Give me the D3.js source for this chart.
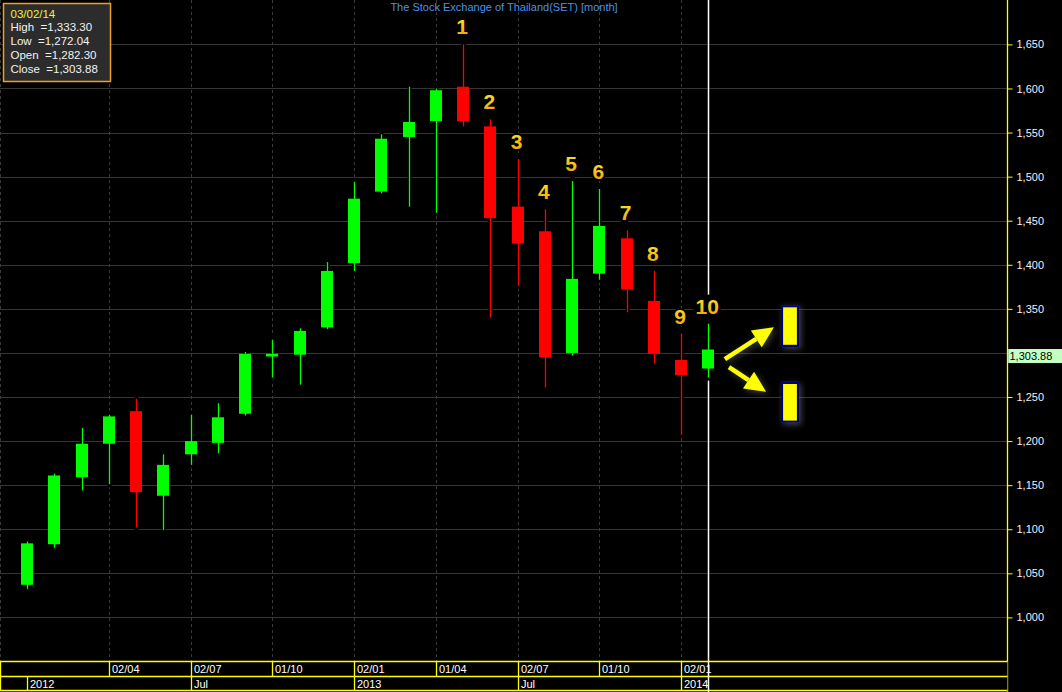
<!DOCTYPE html>
<html><head><meta charset="utf-8">
<script src="https://cdn.jsdelivr.net/npm/d3@7"></script>
<style>
html,body{margin:0;padding:0;background:#000;overflow:hidden;}
svg{display:block;font-family:Arial,"Liberation Sans",sans-serif;}
</style></head><body>
<svg id="c" width="1062" height="692"></svg>
<script>
// ---------------- data ----------------
const months = ["2012-01","2012-02","2012-03","2012-04","2012-05","2012-06","2012-07","2012-08","2012-09","2012-10","2012-11","2012-12",
                "2013-01","2013-02","2013-03","2013-04","2013-05","2013-06","2013-07","2013-08","2013-09","2013-10","2013-11","2013-12",
                "2014-01","2014-02"];
const openV  = [1037,1083,1159,1197,1234,1138,1185,1198,1231,1296,1298,1329,1402,1483,1545,1563,1602,1557,1466,1438,1300,1390,1430,1359,1292,1282.30];
const highV  = [1086,1163,1215,1230,1248,1185,1230,1243,1301,1315,1328,1403,1494,1548,1602,1600,1650,1565,1520,1463,1495,1486,1439,1393,1322,1333.30];
const lowV   = [1032,1079,1144,1151,1102,1099,1173,1186,1229,1272,1264,1327,1393,1481,1466,1459,1557,1340,1376,1261,1297,1383,1346,1288,1207,1272.04];
const closeV = [1084,1161,1197,1228,1142,1173,1200,1227,1299,1299,1325,1393,1475,1543,1562,1598,1563,1453,1424,1295,1384,1444,1372,1299,1275,1303.88];

const yTicks = [1000,1050,1100,1150,1200,1250,1300,1350,1400,1450,1500,1550,1600,1650];
const dateTickIndex  = [3,6,9,12,15,18,21,24];
const dateTickLabels = ["02/04","02/07","01/10","02/01","01/04","02/07","01/10","02/01"];
const periodTickIndex  = [0,6,12,18,24];
const periodTickLabels = ["2012","Jul","2013","Jul","2014"];

const title = "The Stock Exchange of Thailand(SET) [month]";
const infoDate = "03/02/14";
const cursorIndex = 25;

// annotations: numbered months (1..10), and two projection arrows/boxes
const labelIndex = [16,17,18,19,20,21,22,23,24,25];
const labelText  = ["1","2","3","4","5","6","7","8","9","10"];
const arrowFromIdx = [25.61, 25.76];
const arrowFromVal = [1293, 1284];
const arrowToIdx   = [27.41, 27.12];
const arrowToVal   = [1329, 1256];
const boxIdx  = [28, 28];
const boxHigh = [1353, 1266];
const boxLow  = [1308, 1222];

// ---------------- layout ----------------
const W = 1062, H = 692;
const plotRight = 1007.5, plotBottom = 661.5;
const svg = d3.select("#c");

const x = d3.scaleLinear().domain([0, 25]).range([27, 708.25]);
const y = d3.scaleLinear().domain([1000, 1650]).range([617.4, 44.4]);
const fmt = d3.format(",");
const fmt2 = d3.format(",.2f");
const lastClose = closeV[closeV.length-1];

const defs = svg.append("defs");
const grad = defs.append("linearGradient").attr("id","gold").attr("x1",0).attr("y1",0).attr("x2",0).attr("y2",1);
grad.append("stop").attr("offset","0%").attr("stop-color","#ffe830");
grad.append("stop").attr("offset","100%").attr("stop-color","#f0a000");
const glow = defs.append("filter").attr("id","glow").attr("x","-50%").attr("y","-50%").attr("width","200%").attr("height","200%");
glow.append("feDropShadow").attr("dx",2).attr("dy",2).attr("stdDeviation",3).attr("flood-color","#777").attr("flood-opacity",0.55);

svg.append("rect").attr("width",W).attr("height",H).attr("fill","#000");

// horizontal grid
svg.append("g").selectAll("line").data(yTicks).join("line")
  .attr("x1",0).attr("x2",plotRight)
  .attr("y1",d=>Math.round(y(d))+0.5).attr("y2",d=>Math.round(y(d))+0.5)
  .attr("stroke","#353535").attr("stroke-width",1);

// vertical dashed grid
svg.append("g").selectAll("line").data([-1].concat(dateTickIndex)).join("line")
  .attr("x1",d=>d<0?0.5:Math.round(x(d))+0.5).attr("x2",d=>d<0?0.5:Math.round(x(d))+0.5)
  .attr("y1",0).attr("y2",plotBottom)
  .attr("stroke","#3a3a3a").attr("stroke-width",1).attr("stroke-dasharray","3,3");

// title
svg.append("text").attr("x",504).attr("y",11).attr("text-anchor","middle")
  .attr("font-size",11).attr("fill","#4d92e6").text(title);

// cursor line
svg.append("line").attr("x1",Math.round(x(cursorIndex))+0.5).attr("x2",Math.round(x(cursorIndex))+0.5)
  .attr("y1",0).attr("y2",H).attr("stroke","#fff").attr("stroke-width",1.5);

// candles
const candles = months.map((m,i)=>({i, o:openV[i], h:highV[i], l:lowV[i], c:closeV[i]}));
const cg = svg.append("g");
cg.selectAll("line.halo").data(candles).join("line").attr("class","halo")
  .attr("x1",d=>Math.round(x(d.i))+0.5).attr("x2",d=>Math.round(x(d.i))+0.5)
  .attr("y1",d=>y(d.h)-4).attr("y2",d=>y(d.l)+3)
  .attr("stroke","#000").attr("stroke-width",4);
cg.selectAll("line.wick").data(candles).join("line").attr("class","wick")
  .attr("x1",d=>Math.round(x(d.i))+0.5).attr("x2",d=>Math.round(x(d.i))+0.5)
  .attr("y1",d=>y(d.h)).attr("y2",d=>y(d.l))
  .attr("stroke",d=>d.c>=d.o?"#00ff00":"#ff0000").attr("stroke-width",1.3);
cg.selectAll("rect.body").data(candles).join("rect").attr("class","body")
  .attr("x",d=>Math.round(x(d.i))-6).attr("width",12)
  .attr("y",d=>y(Math.max(d.o,d.c)))
  .attr("height",d=>Math.max(2.5, y(Math.min(d.o,d.c))-y(Math.max(d.o,d.c))))
  .attr("fill",d=>d.c>=d.o?"#00ff00":"#ff0000");

// numbered labels
const lg = svg.append("g");
labelIndex.forEach((idx,k)=>{
  const tx = x(idx) - 1, ty = y(highV[idx]) - 10;
  const t = lg.append("text").attr("x",tx).attr("y",ty).attr("text-anchor","middle")
    .attr("font-size",21).attr("font-weight","bold").attr("fill","url(#gold)")
    .attr("stroke","#000").attr("stroke-width",4).attr("paint-order","stroke")
    .text(labelText[k]);
  if (idx === cursorIndex) {
    const bb = t.node().getBBox();
    lg.insert("rect", () => t.node()).attr("x",bb.x-2).attr("y",bb.y).attr("width",bb.width+4)
      .attr("height", y(highV[idx]) - 3 - bb.y).attr("fill","#000");
  }
});

// arrows
const ag = svg.append("g").attr("filter","url(#glow)");
arrowFromIdx.forEach((_,k)=>{
  const x1 = x(arrowFromIdx[k]), y1 = y(arrowFromVal[k]);
  const x2 = x(arrowToIdx[k]), y2 = y(arrowToVal[k]);
  const ang = Math.atan2(y2-y1, x2-x1);
  const hl = 21, hw = 10;
  const bx = x2 - hl*Math.cos(ang), by = y2 - hl*Math.sin(ang);
  ag.append("line").attr("x1",x1).attr("y1",y1).attr("x2",bx).attr("y2",by)
    .attr("stroke","#ffff00").attr("stroke-width",4.5);
  const px = -Math.sin(ang), py = Math.cos(ang);
  ag.append("path").attr("d",`M${x2},${y2}L${bx+px*hw},${by+py*hw}L${bx-px*hw},${by-py*hw}Z`)
    .attr("fill","#ffff00");
});
// projection boxes
svg.append("g").attr("filter","url(#glow)").selectAll("rect").data(boxIdx.map((b,k)=>({b,hi:boxHigh[k],lo:boxLow[k]}))).join("rect")
  .attr("x",d=>x(d.b)-8).attr("width",16)
  .attr("y",d=>y(d.hi)).attr("height",d=>y(d.lo)-y(d.hi))
  .attr("fill","#ffff00").attr("stroke","#000080").attr("stroke-width",2.2);

// right axis (the tick hidden under the last-price tag is omitted)
svg.append("rect").attr("x",plotRight).attr("y",0).attr("width",W-plotRight).attr("height",H).attr("fill","#000");
const shownTicks = yTicks.filter(v => Math.abs(y(v) - y(lastClose)) > 9);
const ax = svg.append("g").attr("transform",`translate(${plotRight},0)`)
  .call(d3.axisRight(y).tickValues(shownTicks).tickSize(5).tickPadding(4).tickFormat(fmt));
ax.select(".domain").remove();
ax.selectAll(".tick line").attr("stroke","#ffff00");
ax.selectAll(".tick text").attr("fill","#eef0ff").attr("font-size",11).attr("font-family","Arial,'Liberation Sans',sans-serif");
svg.append("line").attr("x1",plotRight).attr("x2",plotRight).attr("y1",0).attr("y2",H)
  .attr("stroke","#ffff00").attr("stroke-width",1.3);

// last price tag
svg.append("rect").attr("x",plotRight+0.7).attr("y",y(lastClose)-0.5).attr("width",W-plotRight).attr("height",14)
  .attr("fill","#c4ffc4");
svg.append("text").attr("x",plotRight+2).attr("y",y(lastClose)+10.5).attr("font-size",11)
  .attr("fill","#000").text(fmt2(lastClose));

// bottom axis
const bg = svg.append("g");
bg.append("rect").attr("x",0).attr("y",plotBottom).attr("width",plotRight).attr("height",H-plotBottom).attr("fill","#000");
[plotBottom, 676.5, 690.5].forEach(yy=>{
  bg.append("line").attr("x1",0).attr("x2",plotRight).attr("y1",yy).attr("y2",yy).attr("stroke","#ffff00").attr("stroke-width",1.3);
});
bg.append("line").attr("x1",0.5).attr("x2",0.5).attr("y1",plotBottom).attr("y2",690.5).attr("stroke","#ffff00").attr("stroke-width",1.3);
bg.selectAll("line.r1").data(dateTickIndex).join("line").attr("class","r1")
  .attr("x1",d=>Math.round(x(d))+0.5).attr("x2",d=>Math.round(x(d))+0.5)
  .attr("y1",plotBottom).attr("y2",676.5).attr("stroke","#ffff00").attr("stroke-width",1.3);
bg.selectAll("text.r1").data(dateTickIndex).join("text").attr("class","r1")
  .attr("x",d=>Math.round(x(d))+3).attr("y",673).attr("font-size",11).attr("fill","#fff")
  .text((d,k)=>dateTickLabels[k]);
bg.selectAll("line.r2").data(periodTickIndex).join("line").attr("class","r2")
  .attr("x1",d=>Math.round(x(d))+0.5).attr("x2",d=>Math.round(x(d))+0.5)
  .attr("y1",676.5).attr("y2",690.5).attr("stroke","#ffff00").attr("stroke-width",1.3);
bg.selectAll("text.r2").data(periodTickIndex).join("text").attr("class","r2")
  .attr("x",d=>Math.round(x(d))+3).attr("y",688).attr("font-size",11).attr("fill","#fff")
  .text((d,k)=>periodTickLabels[k]);
svg.append("line").attr("x1",Math.round(x(cursorIndex))+0.5).attr("x2",Math.round(x(cursorIndex))+0.5)
  .attr("y1",plotBottom).attr("y2",H).attr("stroke","#fff").attr("stroke-width",1.5);

// info box
const last = closeV.length-1;
const ib = svg.append("g");
ib.append("rect").attr("x",3.5).attr("y",3.5).attr("width",107).attr("height",78)
  .attr("fill","#2c2c2c").attr("stroke","#f0a020").attr("stroke-width",1.5);
const infoLines = [
  {t:infoDate, c:"#f0f040"},
  {t:"High  =" + fmt2(highV[last]), c:"#f2f2f2"},
  {t:"Low  =" + fmt2(lowV[last]), c:"#f2f2f2"},
  {t:"Open  =" + fmt2(openV[last]), c:"#f2f2f2"},
  {t:"Close  =" + fmt2(closeV[last]), c:"#f2f2f2"}
];
ib.selectAll("text").data(infoLines).join("text")
  .attr("x",10.5).attr("y",(d,k)=>17.5+k*13.9).attr("font-size",11.5)
  .attr("fill",d=>d.c).attr("xml:space","preserve").style("white-space","pre")
  .text(d=>d.t);
</script>
</body></html>
